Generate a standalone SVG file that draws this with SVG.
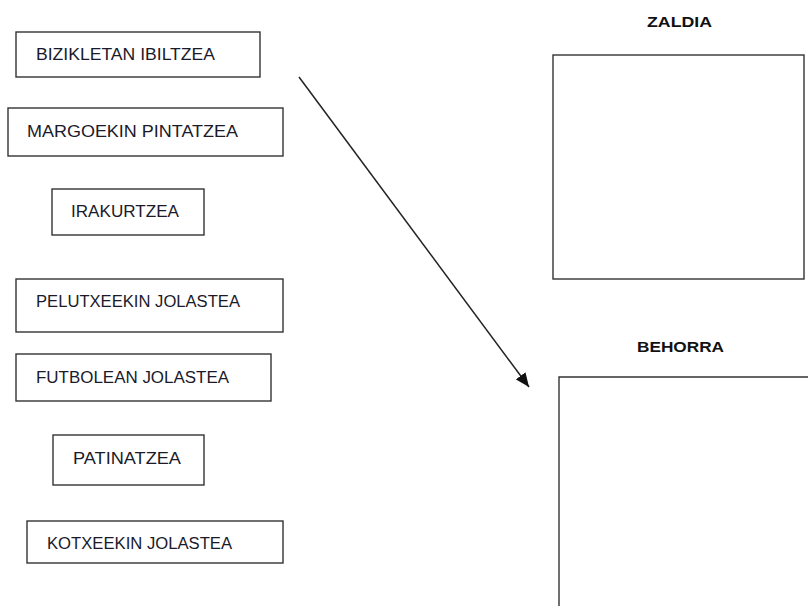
<svg xmlns="http://www.w3.org/2000/svg" width="808" height="606" viewBox="0 0 808 606">
<style>
.b{fill:#fff;stroke:#333;stroke-width:1.4}
.t{font-family:"Liberation Sans",Arial,sans-serif;font-size:16px;fill:#1a1a2a}
.h{font-family:"Liberation Sans",Arial,sans-serif;font-size:15.5px;font-weight:bold;fill:#111;text-anchor:middle}
.c{stroke:#222;stroke-width:1.5;fill:none}
</style>
<defs>
<marker id="ah" markerWidth="14" markerHeight="12" refX="14" refY="6" orient="auto" markerUnits="userSpaceOnUse" viewBox="0 0 14 12">
<path d="M0,0 L14,6 L0,12 z" fill="#111"/>
</marker>
</defs>
<rect width="808" height="606" fill="#fff"/>
<g id="n1"><rect class="b" x="16" y="32" width="244" height="45"/><text class="t" x="36" y="60" textLength="179" lengthAdjust="spacingAndGlyphs">BIZIKLETAN IBILTZEA</text></g>
<g id="n2"><rect class="b" x="8" y="108" width="275" height="48"/><text class="t" x="27" y="137" textLength="211" lengthAdjust="spacingAndGlyphs">MARGOEKIN PINTATZEA</text></g>
<g id="n3"><rect class="b" x="52" y="189" width="152" height="46"/><text class="t" x="71" y="217" textLength="108" lengthAdjust="spacingAndGlyphs">IRAKURTZEA</text></g>
<g id="n4"><rect class="b" x="16" y="279" width="267" height="53"/><text class="t" x="36" y="307" textLength="204" lengthAdjust="spacingAndGlyphs">PELUTXEEKIN JOLASTEA</text></g>
<g id="n5"><rect class="b" x="16" y="354" width="255" height="47"/><text class="t" x="36" y="383" textLength="193" lengthAdjust="spacingAndGlyphs">FUTBOLEAN JOLASTEA</text></g>
<g id="n6"><rect class="b" x="53" y="435" width="151" height="50"/><text class="t" x="73" y="464" textLength="108" lengthAdjust="spacingAndGlyphs">PATINATZEA</text></g>
<g id="n7"><rect class="b" x="27" y="521" width="256" height="42"/><text class="t" x="47" y="549" textLength="185" lengthAdjust="spacingAndGlyphs">KOTXEEKIN JOLASTEA</text></g>
<g id="zaldia"><text class="h" x="679.5" y="27" textLength="65" lengthAdjust="spacingAndGlyphs">ZALDIA</text><rect class="b" x="553" y="55" width="251" height="224"/></g>
<g id="behorra"><text class="h" x="680.5" y="352" textLength="87" lengthAdjust="spacingAndGlyphs">BEHORRA</text><path class="b" d="M559,610 L559,377 L812,377"/></g>
<g id="connectors"><line class="c" x1="299" y1="77" x2="529" y2="387" marker-end="url(#ah)"/></g>
</svg>
